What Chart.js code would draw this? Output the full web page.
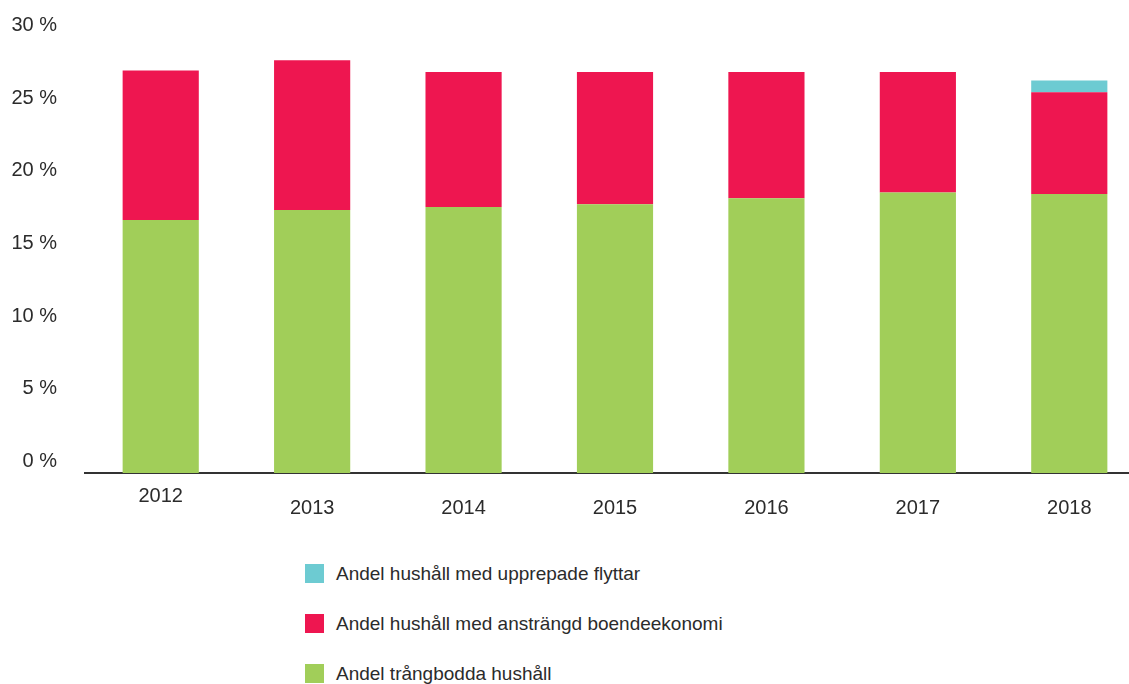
<!DOCTYPE html>
<html>
<head>
<meta charset="utf-8">
<script src="https://cdn.jsdelivr.net/npm/chart.js@4"></script>
<style>
  html, body { margin: 0; padding: 0; background: #fff; overflow: hidden; width: 1129px; height: 684px; }
  #wrap { position: relative; width: 1129px; height: 684px; overflow: hidden; }
  canvas { position: absolute; left: 0; top: 0; }
  #legend { position: absolute; left: 305px; top: 564px; font-family: "Liberation Sans", Arial, sans-serif; font-size: 19px; color: #2b2b2b; }
  .row { display: flex; align-items: center; height: 19px; margin-bottom: 31px; white-space: nowrap; }
  .sw { width: 19px; height: 19px; margin-right: 12px; flex: none; }
</style>
</head>
<body>
<div id="wrap">
  <canvas id="c" width="1145" height="541"></canvas>
  <div id="legend"></div>
</div>
<script>
const years = ['2012', '2013', '2014', '2015', '2016', '2017', '2018'];
const crowded = [17.4, 18.1, 18.3, 18.5, 18.9, 19.3, 19.2];
const strained = [10.3, 10.3, 9.3, 9.1, 8.7, 8.3, 7.0];
const repeatedMoves = [null, null, null, null, null, null, 0.8];
const yTicks = [0, 5, 10, 15, 20, 25, 30];

const seriesNames = ['Andel trångbodda hushåll', 'Andel hushåll med ansträngd boendeekonomi', 'Andel hushåll med upprepade flyttar'];
const seriesColors = ['#A1CE59', '#EE1650', '#6DCBD2'];

const FONT = '"Liberation Sans", Arial, sans-serif';
const TXT = '#2b2b2b';

const chart = new Chart(document.getElementById('c'), {
  type: 'bar',
  data: {
    labels: years,
    datasets: [
      { label: seriesNames[0], data: crowded, backgroundColor: seriesColors[0] },
      { label: seriesNames[1], data: strained, backgroundColor: seriesColors[1] },
      { label: seriesNames[2], data: repeatedMoves, backgroundColor: seriesColors[2] }
    ]
  },
  options: {
    responsive: false,
    animation: false,
    devicePixelRatio: 1,
    layout: { padding: { top: 37, right: 0, left: 0, bottom: 0 } },
    datasets: { bar: { categoryPercentage: 1, barPercentage: 0.503, borderWidth: 0 } },
    plugins: { legend: { display: false }, tooltip: { enabled: false } },
    scales: {
      x: {
        stacked: true,
        grid: { display: false, drawTicks: false },
        border: { display: true, color: '#333333', width: 2 },
        afterFit: (s) => { s.height = 68; },
        ticks: {
          padding: 11,
          color: TXT,
          font: (ctx) => ({ family: FONT, size: 20, lineHeight: ctx.index === 0 ? 1.2 : 2.4 })
        }
      },
      y: {
        stacked: true,
        min: 0,
        max: 30,
        grid: { display: false, drawTicks: false },
        border: { display: false },
        afterFit: (s) => { s.width = 85; s.paddingTop = 0; s.paddingBottom = 0; },
        afterBuildTicks: (s) => { s.ticks = yTicks.map(v => ({ value: v })); },
        ticks: {
          padding: 28,
          labelOffset: -11.5,
          color: TXT,
          font: { family: FONT, size: 20 },
          callback: (v) => v + ' %'
        }
      }
    }
  }
});

// legend (reverse order, as in reference)
const leg = document.getElementById('legend');
for (let i = seriesNames.length - 1; i >= 0; i--) {
  const row = document.createElement('div');
  row.className = 'row';
  const sw = document.createElement('span');
  sw.className = 'sw';
  sw.style.background = seriesColors[i];
  const t = document.createElement('span');
  t.textContent = seriesNames[i];
  row.appendChild(sw);
  row.appendChild(t);
  leg.appendChild(row);
}
</script>
</body>
</html>
